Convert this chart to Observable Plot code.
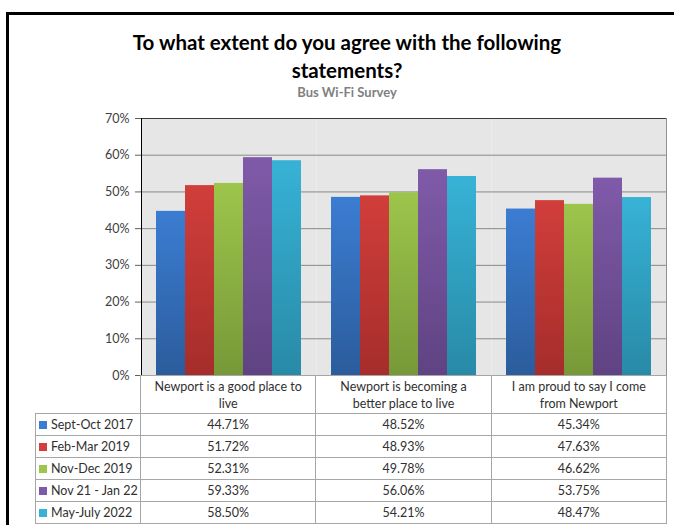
<!DOCTYPE html>
<html>
<head>
<meta charset="utf-8">
<script src="https://cdn.jsdelivr.net/npm/d3@7"></script>
<script src="https://cdn.jsdelivr.net/npm/@observablehq/plot@0.6"></script>
<style>
  html, body { margin: 0; padding: 0; background: #fff; }
  body { width: 674px; height: 525px; position: relative; overflow: hidden; font-family: Lato, "Liberation Sans", sans-serif; }
  #frame { position: absolute; left: 6px; top: 12px; width: 900px; height: 900px; border: 3px solid #000; box-sizing: border-box; }
  #title { position: absolute; left: 0; top: 28px; width: 694px; text-align: center; font-weight: bold; font-size: 20.5px; line-height: 28px; color: #000; }
  #subtitle { position: absolute; left: 0; top: 84px; width: 694px; text-align: center; font-weight: bold; font-size: 13px; line-height: 16px; color: #808080; }
  #chart { position: absolute; left: 0; top: 110px; }
  #table { position: absolute; left: 35px; top: 375px; border-collapse: collapse; font-size: 12.5px; color: #303030; table-layout: fixed; background: transparent; }
  #table td { border: 1px solid #a6a6a6; padding: 0; text-align: center; height: 21px; line-height: 14px; white-space: nowrap; background: #fff; }
  #table tr.head td { height: 37px; white-space: pre-line; line-height: 17px; vertical-align: middle; }
  #table td.blank { border: none; background: transparent; }
  #table td.leg { text-align: left; padding-left: 3px; }
  .sw { display: inline-block; width: 8px; height: 8px; margin-right: 4px; vertical-align: 0px; }
</style>
</head>
<body>
<div id="frame"></div>
<div id="title">To what extent do you agree with the following<br>statements?</div>
<div id="subtitle">Bus Wi-Fi Survey</div>
<div id="chart"></div>
<table id="table"></table>
<script>
const categories = ["Newport is a good place to live", "Newport is becoming a better place to live", "I am proud to say I come from Newport"];
const categoryLines = ["Newport is a good place to\nlive", "Newport is becoming a\nbetter place to live", "I am proud to say I come\nfrom Newport"];
const series = ["Sept-Oct 2017", "Feb-Mar 2019", "Nov-Dec 2019", "Nov 21 - Jan 22", "May-July 2022"];
const sept2017 = [44.71, 48.52, 45.34];
const feb2019 = [51.72, 48.93, 47.63];
const nov2019 = [52.31, 49.78, 46.62];
const nov21jan22 = [59.33, 56.06, 53.75];
const may2022 = [58.50, 54.21, 48.47];
const topColors = ["#3b7dd2", "#d13e3b", "#9dc54b", "#7f5aa9", "#37b2d6"];
const bottomColors = ["#2b5c9c", "#a52d2b", "#779838", "#5f4382", "#288aa6"];
const yTicks = [0, 10, 20, 30, 40, 50, 60, 70];

const seriesValues = [sept2017, feb2019, nov2019, nov21jan22, may2022];
const data = [];
series.forEach((s, i) => categories.forEach((c, j) => data.push({series: s, category: c, value: seriesValues[i][j]})));

const chart = Plot.plot({
  width: 674,
  height: 275,
  marginLeft: 140,
  marginRight: 8,
  marginTop: 8,
  marginBottom: 10,
  style: {fontFamily: "Lato, 'Liberation Sans', sans-serif", fontSize: "12.5px", color: "#404040", background: "transparent"},
  fx: {domain: categories, padding: 0, axis: null, label: null},
  x: {domain: series, paddingInner: 0, paddingOuter: 0.5, axis: null},
  y: {domain: [0, 70], axis: null},
  color: {domain: series, range: topColors},
  marks: [
    Plot.frame({fill: "#e6e6e6", stroke: null}),
    Plot.gridY(yTicks, {stroke: "#8a8a8a", strokeOpacity: 1}),
    Plot.barY(data, {fx: "category", x: "series", y: "value", fill: "series"}),
    Plot.frame({anchor: "top", stroke: "#3a3a3a"}),
    Plot.frame({anchor: "right", facetAnchor: "right", stroke: "#909090"}),
    Plot.frame({anchor: "left", facetAnchor: "left", stroke: "#000"}),
    Plot.axisY(yTicks, {tickSize: 6, tickPadding: 6, tickFormat: d => d + "%", label: null, stroke: "#606060", fill: "#404040"})
  ]
});
document.getElementById("chart").appendChild(chart);

// vertical gradients for bars
const svgNS = "http://www.w3.org/2000/svg";
const defs = document.createElementNS(svgNS, "defs");
topColors.forEach((c, i) => {
  const g = document.createElementNS(svgNS, "linearGradient");
  g.setAttribute("id", "grad" + i);
  g.setAttribute("x1", "0"); g.setAttribute("y1", "0"); g.setAttribute("x2", "0"); g.setAttribute("y2", "1");
  [[0, c], [1, bottomColors[i]]].forEach(([o, col]) => {
    const st = document.createElementNS(svgNS, "stop");
    st.setAttribute("offset", o); st.setAttribute("stop-color", col);
    g.appendChild(st);
  });
  defs.appendChild(g);
});
chart.insertBefore(defs, chart.firstChild);
const norm = c => d3.color(c).formatHex();
const colorIndex = new Map(topColors.map((c, i) => [norm(c), i]));
chart.querySelectorAll("g[aria-label='bar'] rect").forEach(r => {
  const f = r.getAttribute("fill") || (r.parentNode && r.parentNode.getAttribute("fill"));
  if (f && colorIndex.has(norm(f))) r.setAttribute("fill", `url(#grad${colorIndex.get(norm(f))})`);
});

// data table with legend
const table = document.getElementById("table");
const colgroup = document.createElement("colgroup");
[105, 175.33, 175.33, 175.33].forEach(w => { const col = document.createElement("col"); col.style.width = w + "px"; colgroup.appendChild(col); });
table.appendChild(colgroup);
const head = document.createElement("tr");
head.className = "head";
const blank = document.createElement("td"); blank.className = "blank"; head.appendChild(blank);
categoryLines.forEach(t => { const td = document.createElement("td"); td.textContent = t; head.appendChild(td); });
table.appendChild(head);
series.forEach((s, i) => {
  const tr = document.createElement("tr");
  const leg = document.createElement("td"); leg.className = "leg";
  const sw = document.createElement("span"); sw.className = "sw"; sw.style.background = topColors[i];
  leg.appendChild(sw); leg.appendChild(document.createTextNode(s));
  tr.appendChild(leg);
  seriesValues[i].forEach(v => { const td = document.createElement("td"); td.textContent = v.toFixed(2) + "%"; tr.appendChild(td); });
  table.appendChild(tr);
});
</script>
</body>
</html>
